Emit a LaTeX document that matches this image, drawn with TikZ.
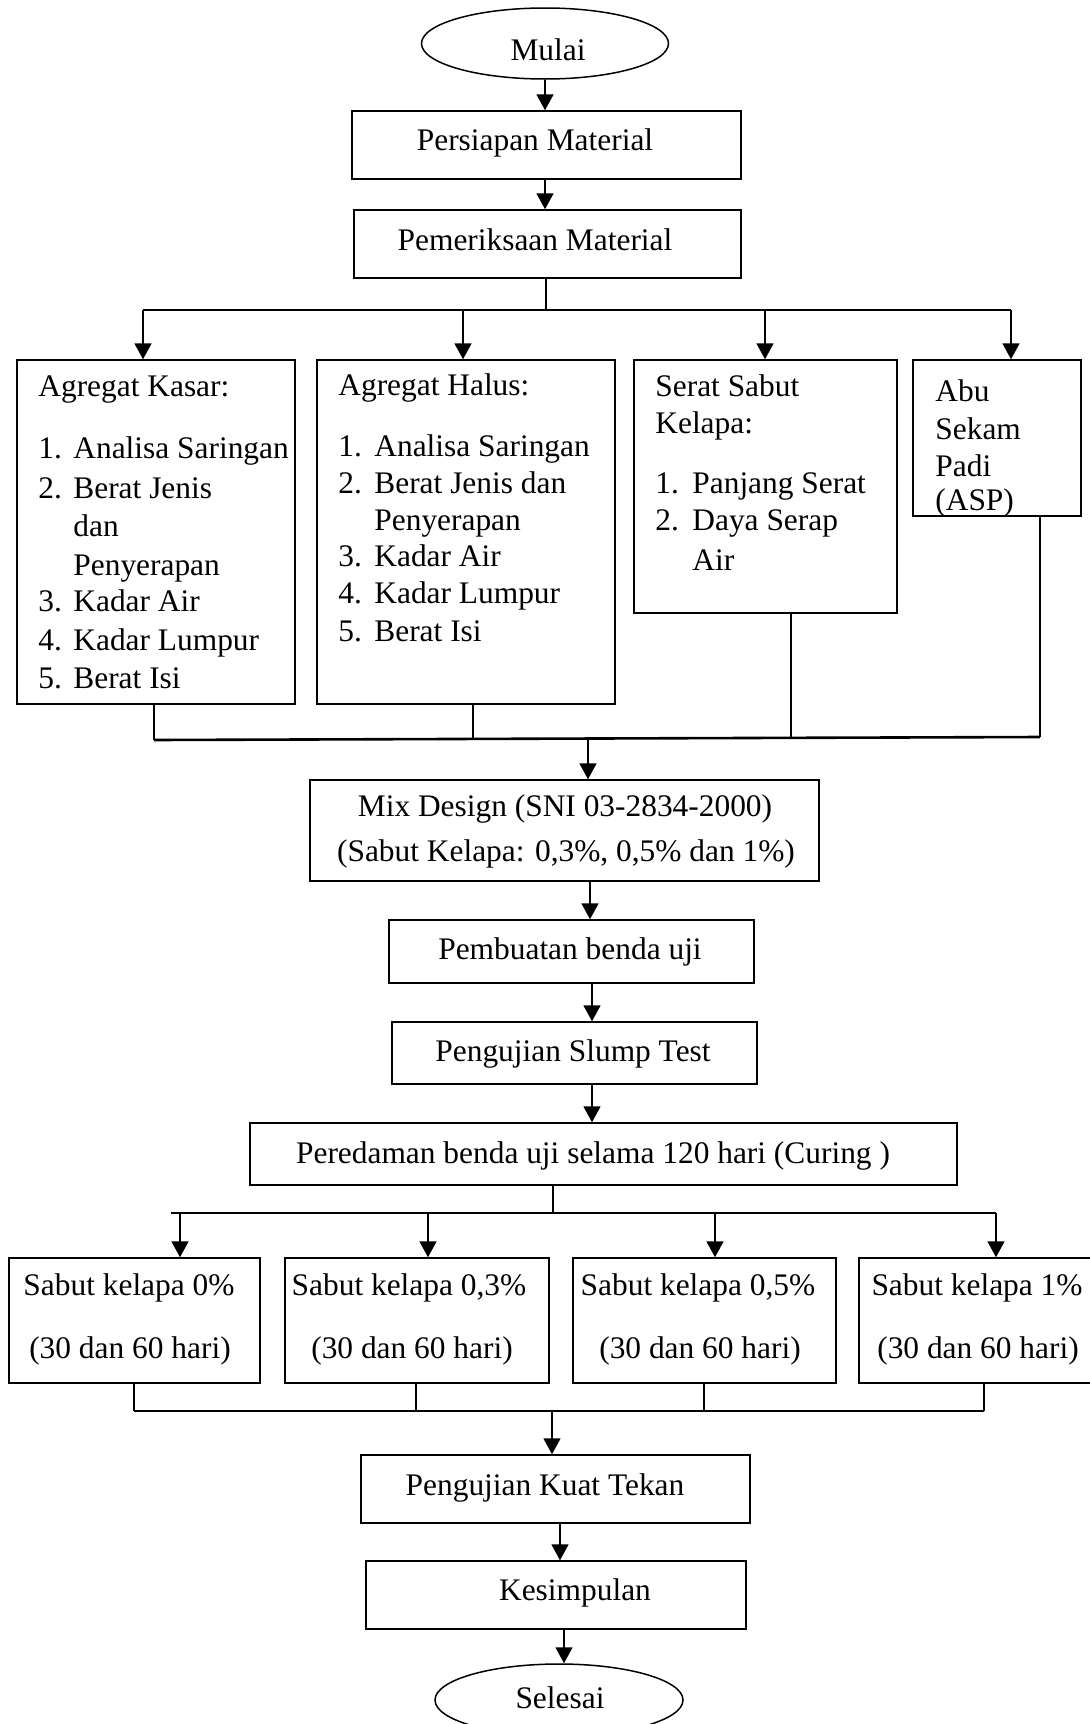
\documentclass[tikz,border=0pt]{standalone}
\usepackage{fontspec}
\setmainfont{Liberation Serif}
\usetikzlibrary{arrows.meta,shapes.geometric,fit}
\begin{document}
\begin{tikzpicture}[x=0.5pt,y=-0.5pt,
  box/.style={draw, line width=0.75pt, inner sep=0pt},
  oval/.style={draw, ellipse, line width=0.75pt, inner sep=0pt},
  txt/.style={inner sep=0pt, font=\fontsize{15.7pt}{18.8pt}\selectfont},
  arr/.style={line width=0.9pt, -{Triangle[length=8pt,width=8.5pt]}},
  ln/.style={line width=0.9pt},
  bar/.style={line width=1.3pt}]
\useasboundingbox (0,0) rectangle (1090,1724);
\clip (0,0) rectangle (1090,1724);
\fill[white] (0,0) rectangle (1090,1724);

% ---------- top chain ----------
\node[oval, minimum width=123.5pt, minimum height=35.5pt] (mulai) at (545,43.5) {};
\node[txt, anchor=base] (mulait) at (548,60) {Mulai};
\node[box, fit={(352,111) (741,179)}] (p1) {};
\node[txt, anchor=base] (p1t) at (535,150) {Persiapan Material};
\node[box, fit={(354,210) (741,278)}] (p2) {};
\node[txt, anchor=base] (p2t) at (535,250) {Pemeriksaan Material};

\draw[arr] (mulai.south) -- (mulai.south |- p1.north);
\coordinate (xa) at (545,0);
\draw[arr] (xa |- p1.south) -- (xa |- p2.north);

% ---------- material boxes ----------
\node[box, fit={(17,360) (295,704)}] (k1) {};
\node[box, fit={(317,360) (615,704)}] (k2) {};
\node[box, fit={(634,360) (897,613)}] (k3) {};
\node[box, fit={(913,360) (1081,516)}] (k4) {};

\coordinate (b1) at (143,310);
\coordinate (b2) at (463,310);
\coordinate (b3) at (765,310);
\coordinate (b4) at (1011,310);
\coordinate (xb) at (546,0);
\draw[ln] (xb |- p2.south) -- (xb |- b1);
\draw[bar] (b1) -- (b4);
\draw[arr] (b1) -- (b1 |- k1.north);
\draw[arr] (b2) -- (b2 |- k2.north);
\draw[arr] (b3) -- (b3 |- k3.north);
\draw[arr] (b4) -- (b4 |- k4.north);

% box 1 text
\node[txt, anchor=base west] (k1h) at (38,396) {Agregat Kasar:};
\node[txt, anchor=base west] (k1n1) at (38,458) {1.};
\node[txt, anchor=base west] (k1a) at (73,458) {Analisa Saringan};
\node[txt, anchor=base west] (k1n2) at (38,498) {2.};
\node[txt, anchor=base west] (k1b) at (73,498) {Berat Jenis};
\node[txt, anchor=base west] (k1c) at (73,536) {dan};
\node[txt, anchor=base west] (k1d) at (73,575) {Penyerapan};
\node[txt, anchor=base west] (k1n3) at (38,611) {3.};
\node[txt, anchor=base west] (k1e) at (73,611) {Kadar Air};
\node[txt, anchor=base west] (k1n4) at (38,650) {4.};
\node[txt, anchor=base west] (k1f) at (73,650) {Kadar Lumpur};
\node[txt, anchor=base west] (k1n5) at (38,688) {5.};
\node[txt, anchor=base west] (k1g) at (73,688) {Berat Isi};

% box 2 text
\node[txt, anchor=base west] (k2h) at (338,395) {Agregat Halus:};
\node[txt, anchor=base west] (k2n1) at (338,456) {1.};
\node[txt, anchor=base west] (k2a) at (374,456) {Analisa Saringan};
\node[txt, anchor=base west] (k2n2) at (338,493) {2.};
\node[txt, anchor=base west] (k2b) at (374,493) {Berat Jenis dan};
\node[txt, anchor=base west] (k2c) at (374,530) {Penyerapan};
\node[txt, anchor=base west] (k2n3) at (338,566) {3.};
\node[txt, anchor=base west] (k2d) at (374,566) {Kadar Air};
\node[txt, anchor=base west] (k2n4) at (338,603) {4.};
\node[txt, anchor=base west] (k2e) at (374,603) {Kadar Lumpur};
\node[txt, anchor=base west] (k2n5) at (338,641) {5.};
\node[txt, anchor=base west] (k2f) at (374,641) {Berat Isi};

% box 3 text
\node[txt, anchor=base west] (k3h1) at (655,396) {Serat Sabut};
\node[txt, anchor=base west] (k3h2) at (655,433) {Kelapa:};
\node[txt, anchor=base west] (k3n1) at (655,493) {1.};
\node[txt, anchor=base west] (k3a) at (692,493) {Panjang Serat};
\node[txt, anchor=base west] (k3n2) at (655,530) {2.};
\node[txt, anchor=base west] (k3b) at (692,530) {Daya Serap};
\node[txt, anchor=base west] (k3c) at (692,570) {Air};

% box 4 text
\node[txt, anchor=base west] (k4a) at (935,401) {Abu};
\node[txt, anchor=base west] (k4b) at (935,439) {Sekam};
\node[txt, anchor=base west] (k4c) at (935,476) {Padi};
\node[txt, anchor=base west] (k4d) at (935,510) {(ASP)};

% join to mix design
\coordinate (j1) at (154,740);
\coordinate (j2) at (473,739);
\coordinate (j3) at (791,738);
\coordinate (j4) at (1040,737);
\coordinate (jm) at (588,740);
\draw[ln] (j1 |- k1.south) -- (j1);
\draw[ln] (j2 |- k2.south) -- (j2);
\draw[ln] (j3 |- k3.south) -- (j3);
\draw[ln] (j4 |- k4.south) -- (j4);
\draw[bar] (j1) -- (j4);

% ---------- middle chain ----------
\node[box, fit={(310,780) (819,881)}] (mix) {};
\node[txt, anchor=base] (mixt1) at (565,816) {Mix Design (SNI 03-2834-2000)};
\node[txt, anchor=base] (mixt2) at (566,861) {(Sabut Kelapa: 0,3\%, 0,5\% dan 1\%)};
\node[box, fit={(389,920) (754,983)}] (pb) {};
\node[txt, anchor=base] (pbt) at (570,959) {Pembuatan benda uji};
\node[box, fit={(392,1022) (757,1084)}] (sl) {};
\node[txt, anchor=base] (slt) at (573,1061) {Pengujian Slump Test};
\node[box, fit={(250,1123) (957,1185)}] (pr) {};
\node[txt, anchor=base] (prt) at (593,1163) {Peredaman benda uji selama 120 hari (Curing )};

\draw[arr] (jm) -- (jm |- mix.north);
\coordinate (xc) at (590,0);
\coordinate (xd) at (592,0);
\draw[arr] (xc |- mix.south) -- (xc |- pb.north);
\draw[arr] (xd |- pb.south) -- (xd |- sl.north);
\draw[arr] (xd |- sl.south) -- (xd |- pr.north);

% ---------- sabut boxes ----------
\node[box, fit={(9,1258) (260,1383)}] (s1) {};
\node[box, fit={(285,1258) (549,1383)}] (s2) {};
\node[box, fit={(573,1258) (836,1383)}] (s3) {};
\node[box, fit={(859,1258) (1096,1383)}] (s4) {};

\coordinate (q1) at (171,1213);
\coordinate (r1) at (180,1213);
\coordinate (r2) at (428,1213);
\coordinate (r3) at (715,1213);
\coordinate (r4) at (996,1213);
\coordinate (xe) at (553,0);
\draw[ln] (xe |- pr.south) -- (xe |- q1);
\draw[bar] (q1) -- (r4);
\draw[arr] (r1) -- (r1 |- s1.north);
\draw[arr] (r2) -- (r2 |- s2.north);
\draw[arr] (r3) -- (r3 |- s3.north);
\draw[arr] (r4) -- (r4 |- s4.north);

\node[txt, anchor=base] (s1a) at (129,1295) {Sabut kelapa 0\%};
\node[txt, anchor=base] (s1b) at (130,1358) {(30 dan 60 hari)};
\node[txt, anchor=base] (s2a) at (409,1295) {Sabut kelapa 0,3\%};
\node[txt, anchor=base] (s2b) at (412,1358) {(30 dan 60 hari)};
\node[txt, anchor=base] (s3a) at (698,1295) {Sabut kelapa 0,5\%};
\node[txt, anchor=base] (s3b) at (700,1358) {(30 dan 60 hari)};
\node[txt, anchor=base] (s4a) at (977,1295) {Sabut kelapa 1\%};
\node[txt, anchor=base] (s4b) at (978,1358) {(30 dan 60 hari)};

\coordinate (t1) at (134,1411);
\coordinate (t2) at (416,1411);
\coordinate (t3) at (704,1411);
\coordinate (t4) at (984,1411);
\coordinate (tm) at (552,1411);
\draw[ln] (t1 |- s1.south) -- (t1);
\draw[ln] (t2 |- s2.south) -- (t2);
\draw[ln] (t3 |- s3.south) -- (t3);
\draw[ln] (t4 |- s4.south) -- (t4);
\draw[bar] (t1) -- (t4);

% ---------- bottom chain ----------
\node[box, fit={(361,1455) (750,1523)}] (kt) {};
\node[txt, anchor=base] (ktt) at (545,1495) {Pengujian Kuat Tekan};
\node[box, fit={(366,1561) (746,1629)}] (ks) {};
\node[txt, anchor=base] (kst) at (575,1600) {Kesimpulan};
\node[oval, minimum width=124pt, minimum height=36pt] (sel) at (559,1700) {};
\node[txt, anchor=base] (selt) at (560,1708) {Selesai};

\draw[arr] (tm) -- (tm |- kt.north);
\coordinate (xf) at (560,0);
\coordinate (xg) at (564,0);
\draw[arr] (xf |- kt.south) -- (xf |- ks.north);
\draw[arr] (xg |- ks.south) -- (xg |- sel.north);
\end{tikzpicture}
\end{document}
